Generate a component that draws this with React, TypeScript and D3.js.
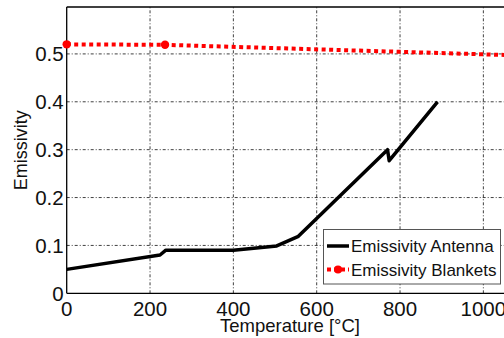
import React from "react";
import * as d3 from "d3";

const antennaTemp = [0, 224, 238, 400, 504, 556, 770, 774, 890];
const antennaEmis = [0.05, 0.08, 0.09, 0.09, 0.099, 0.119, 0.3, 0.277, 0.4];
const blanketTemp = [0, 236, 1200];
const blanketEmis = [0.52, 0.519, 0.494];
const blanketMarkerIdx = [0, 1];
const xTicks = [0, 200, 400, 600, 800, 1000];
const yTicks = [0, 0.1, 0.2, 0.3, 0.4, 0.5];
const xLabel = "Temperature [°C]";
const yLabel = "Emissivity";
const legendLabels = ["Emissivity Antenna", "Emissivity Blankets"];

const W = 504;
const H = 338;
const FONT = "'Liberation Sans', Arial, Helvetica, sans-serif";

export default function App() {
  const x = d3.scaleLinear().domain([0, 1200]).range([66.7, 66.7 + 1200 * 0.41667]);
  const y = d3.scaleLinear().domain([0, 0.598]).range([293.3, 7]);
  const x0 = x(0);
  const x1 = x(1200);
  const y0 = y(0);
  const y1 = y(0.598);

  const line = d3
    .line<[number, number]>()
    .x((d) => x(d[0]))
    .y((d) => y(d[1]));
  const antenna = antennaTemp.map((t, i) => [t, antennaEmis[i]] as [number, number]);
  const blankets = blanketTemp.map((t, i) => [t, blanketEmis[i]] as [number, number]);

  const grid = { stroke: "#000", strokeWidth: 1, strokeDasharray: "3,2,1,2", opacity: 0.75 };

  const lx = 323.5;
  const ly = 229.5;
  const lw = 177;
  const lh = 54.5;

  return (
    <svg
      width={W}
      height={H}
      style={{ position: "absolute", left: 0, top: 0, background: "#fff" }}
      fontFamily={FONT}
    >
      <rect x={0} y={0} width={W} height={H} fill="#fff" />
      <defs>
        <clipPath id="plot">
          <rect x={x0} y={y1} width={x1 - x0} height={y0 - y1} />
        </clipPath>
      </defs>
      {/* grid */}
      {xTicks.slice(1).map((t) => (
        <line key={"gx" + t} x1={x(t)} x2={x(t)} y1={y0} y2={y1} {...grid} />
      ))}
      {yTicks.slice(1).map((t) => (
        <line key={"gy" + t} x1={x0} x2={x1} y1={y(t)} y2={y(t)} {...grid} />
      ))}
      {/* axes frame */}
      <line x1={x0} x2={x1} y1={y0} y2={y0} stroke="#000" strokeWidth={1.3} />
      <line x1={x0} x2={x1} y1={y1} y2={y1} stroke="#000" strokeWidth={1.3} />
      <line x1={x0} x2={x0} y1={y0} y2={y1} stroke="#000" strokeWidth={1.3} />
      {/* tick labels */}
      {xTicks.map((t) => (
        <text key={"xl" + t} x={x(t)} y={316} fontSize={20.5} textAnchor="middle" fill="#111">
          {d3.format("d")(t)}
        </text>
      ))}
      {yTicks.map((t) => (
        <text
          key={"yl" + t}
          x={x0 - 3}
          y={y(t) + 7.5}
          fontSize={20.5}
          textAnchor="end"
          fill="#111"
        >
          {t === 0 ? "0" : d3.format(".1f")(t)}
        </text>
      ))}
      <text x={290} y={332.3} fontSize={18.5} textAnchor="middle" fill="#111">
        {xLabel}
      </text>
      <text
        transform={`translate(26.5,${(y0 + y1) / 2}) rotate(-90)`}
        fontSize={18}
        textAnchor="middle"
        fill="#111"
      >
        {yLabel}
      </text>
      {/* data */}
      <g clipPath="url(#plot)">
        <path d={line(blankets) || ""} fill="none" stroke="#ff0000" strokeWidth={4} strokeDasharray="4,3.5" />
        <path d={line(antenna) || ""} fill="none" stroke="#000" strokeWidth={3.5} strokeLinejoin="round" />
      </g>
      {blanketMarkerIdx.map((i) => (
        <circle key={"m" + i} cx={x(blanketTemp[i])} cy={y(blanketEmis[i])} r={4.2} fill="#ff0000" />
      ))}
      {/* legend */}
      <rect x={lx} y={ly} width={lw} height={lh} fill="#fff" stroke="#555" strokeWidth={1} />
      <line x1={327} x2={349} y1={246} y2={246} stroke="#000" strokeWidth={3.5} />
      <line x1={327} x2={349} y1={269.5} y2={269.5} stroke="#ff0000" strokeWidth={4} strokeDasharray="4,3" />
      <circle cx={338} cy={269.5} r={4} fill="#ff0000" />
      <text x={351} y={252} fontSize={17} fill="#111">
        {legendLabels[0]}
      </text>
      <text x={351} y={275.5} fontSize={17} fill="#111">
        {legendLabels[1]}
      </text>
    </svg>
  );
}
